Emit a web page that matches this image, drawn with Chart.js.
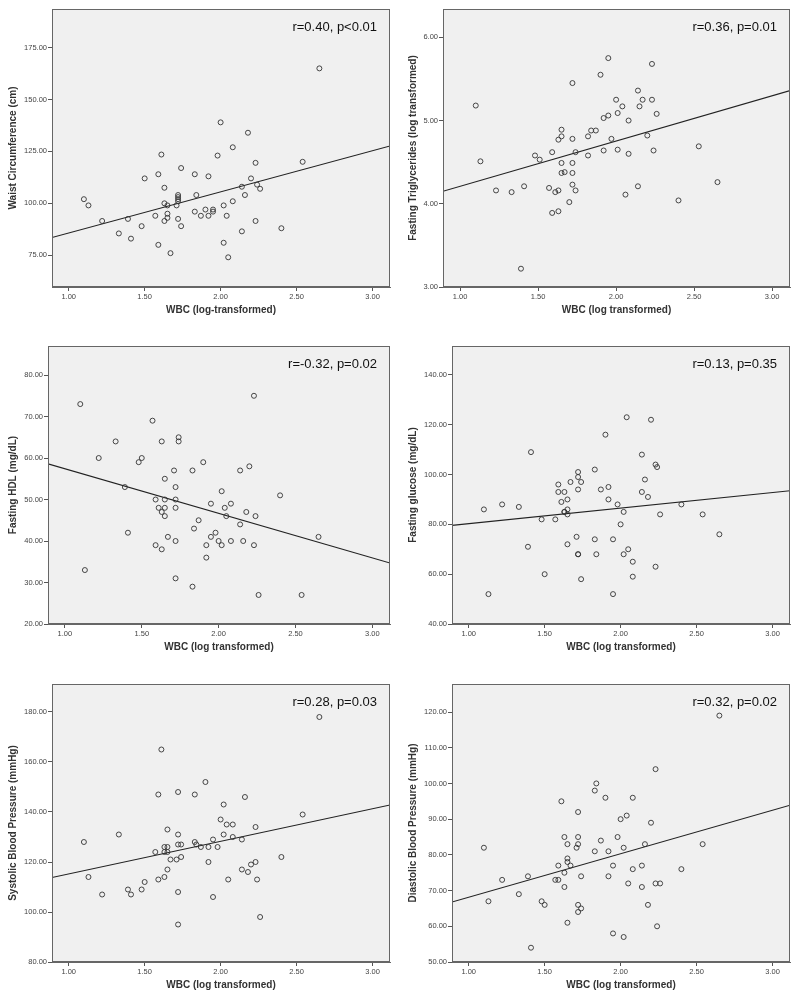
<!DOCTYPE html>
<html>
<head>
<meta charset="utf-8">
<title>WBC correlations</title>
<script src="https://cdn.jsdelivr.net/npm/chart.js@4.4.1/dist/chart.umd.min.js"></script>
<style>
  body { margin: 0; background: #fff; }
  #wrap { position: relative; width: 800px; height: 999px; }
  canvas { position: absolute; }
</style>
</head>
<body>
<div id="wrap">
  <canvas id="c1" width="400" height="333" style="left:0;top:0"></canvas>
  <canvas id="c2" width="400" height="333" style="left:400px;top:0"></canvas>
  <canvas id="c3" width="400" height="333" style="left:0;top:333px"></canvas>
  <canvas id="c4" width="400" height="333" style="left:400px;top:333px"></canvas>
  <canvas id="c5" width="400" height="333" style="left:0;top:666px"></canvas>
  <canvas id="c6" width="400" height="333" style="left:400px;top:666px"></canvas>
</div>
<script>
// x axis ticks shared by all panels
const xTicks = [1.0, 1.5, 2.0, 2.5, 3.0];

// waist circumference
const waistX = [1.10,1.13,1.22,1.33,1.39,1.41,1.48,1.50,1.57,1.59,1.59,1.61,1.63,1.63,1.63,1.65,1.65,1.65,1.67,1.71,1.72,1.72,1.72,1.72,1.72,1.74,1.74,1.83,1.83,1.84,1.87,1.90,1.92,1.92,1.95,1.95,1.98,2.00,2.02,2.02,2.04,2.05,2.08,2.08,2.14,2.14,2.16,2.18,2.20,2.23,2.23,2.24,2.26,2.40,2.54,2.65];
const waistY = [102,99,91.5,85.5,92.5,83,89,112,94,114,80,123.5,107.5,100,91.5,99,95,93,76,99,104,103,102,101,92.5,117,89,114,96,104,94,97,113,94,97,96,123,139,99,81,94,74,127,101,108,86.5,104,134,112,119.5,91.5,109,107,88,120,165];
const waistTicks = [75, 100, 125, 150, 175];
const waistFit = [83.5, 127.6];

// triglycerides
const trigX = [1.10,1.13,1.23,1.33,1.39,1.41,1.48,1.51,1.57,1.59,1.59,1.61,1.63,1.63,1.63,1.65,1.65,1.65,1.65,1.67,1.70,1.72,1.72,1.72,1.72,1.72,1.74,1.74,1.82,1.82,1.84,1.87,1.90,1.92,1.92,1.95,1.95,1.97,2.00,2.01,2.01,2.04,2.06,2.08,2.08,2.14,2.14,2.15,2.17,2.20,2.23,2.23,2.24,2.26,2.40,2.53,2.65];
const trigY = [5.18,4.51,4.16,4.14,3.22,4.21,4.58,4.53,4.19,4.62,3.89,4.14,4.77,4.16,3.91,4.89,4.81,4.49,4.37,4.38,4.02,5.45,4.78,4.49,4.37,4.23,4.62,4.16,4.81,4.58,4.88,4.88,5.55,5.03,4.64,5.75,5.06,4.78,5.25,4.65,5.09,5.17,4.11,5.00,4.60,5.36,4.21,5.17,5.25,4.82,5.68,5.25,4.64,5.08,4.04,4.69,4.26];
const trigTicks = [3, 4, 5, 6];
const trigFit = [4.15, 5.36];

// HDL
const hdlX = [1.10,1.13,1.22,1.33,1.39,1.41,1.48,1.50,1.57,1.59,1.59,1.61,1.63,1.63,1.63,1.65,1.65,1.65,1.65,1.67,1.71,1.72,1.72,1.72,1.72,1.72,1.74,1.74,1.83,1.83,1.84,1.87,1.90,1.92,1.92,1.95,1.95,1.98,2.00,2.02,2.02,2.04,2.05,2.08,2.08,2.14,2.14,2.16,2.18,2.20,2.23,2.23,2.24,2.26,2.40,2.54,2.65];
const hdlY = [73,33,60,64,53,42,59,60,69,50,39,48,64,47,38,55,50,48,46,41,57,53,50,48,40,31,65,64,57,29,43,45,59,39,36,49,41,42,40,52,39,48,46,49,40,57,44,40,47,58,75,39,46,27,51,27,41];
const hdlTicks = [20, 30, 40, 50, 60, 70, 80];
const hdlFit = [58.6, 34.7];

// glucose
const gluX = [1.10,1.13,1.22,1.33,1.39,1.41,1.48,1.50,1.57,1.59,1.59,1.61,1.63,1.63,1.63,1.65,1.65,1.65,1.65,1.67,1.71,1.72,1.72,1.72,1.72,1.72,1.74,1.74,1.83,1.83,1.84,1.87,1.90,1.92,1.92,1.95,1.95,1.98,2.00,2.02,2.02,2.04,2.05,2.08,2.08,2.14,2.14,2.16,2.18,2.20,2.23,2.24,2.23,2.26,2.40,2.54,2.65];
const gluY = [86,52,88,87,71,109,82,60,82,96,93,89,93,85,85,90,86,84,72,97,75,101,99,94,68,68,97,58,102,74,68,94,116,95,90,74,52,88,80,85,68,123,70,65,59,108,93,98,91,122,104,103,63,84,88,84,76];
const gluTicks = [40, 60, 80, 100, 120, 140];
const gluFit = [79.6, 93.5];

// systolic BP
const sbpX = [1.10,1.13,1.22,1.33,1.39,1.41,1.48,1.50,1.57,1.59,1.59,1.61,1.63,1.63,1.63,1.65,1.65,1.65,1.65,1.67,1.71,1.72,1.72,1.72,1.72,1.72,1.74,1.74,1.83,1.83,1.84,1.87,1.90,1.92,1.92,1.95,1.95,1.98,2.00,2.02,2.02,2.04,2.05,2.08,2.08,2.14,2.14,2.16,2.18,2.20,2.23,2.23,2.24,2.26,2.40,2.54,2.65];
const sbpY = [128,114,107,131,109,107,109,112,124,147,113,165,126,124,114,133,126,124,117,121,121,148,131,127,95,108,127,122,147,128,127,126,152,126,120,129,106,126,137,143,131,135,113,135,130,129,117,146,116,119,134,120,113,98,122,139,178];
const sbpTicks = [80, 100, 120, 140, 160, 180];
const sbpFit = [113.8, 142.8];

// diastolic BP
const dbpX = [1.10,1.13,1.22,1.33,1.39,1.41,1.48,1.50,1.57,1.59,1.59,1.61,1.63,1.63,1.63,1.65,1.65,1.65,1.65,1.67,1.71,1.72,1.72,1.72,1.72,1.72,1.74,1.74,1.83,1.83,1.84,1.87,1.90,1.92,1.92,1.95,1.95,1.98,2.00,2.02,2.02,2.04,2.05,2.08,2.08,2.14,2.14,2.16,2.18,2.20,2.23,2.23,2.24,2.26,2.40,2.54,2.65];
const dbpY = [82,67,73,69,74,54,67,66,73,77,73,95,85,75,71,83,79,78,61,77,82,92,85,83,66,64,74,65,98,81,100,84,96,81,74,77,58,85,90,82,57,91,72,96,76,77,71,83,66,89,104,72,60,72,76,83,119];
const dbpTicks = [50, 60, 70, 80, 90, 100, 110, 120];
const dbpFit = [66.8, 93.9];

const X_MIN = 0.89, X_MAX = 3.115;
const CANVAS_H = 333;

const panels = [
  { id: 'c1', xs: waistX, ys: waistY, ticks: waistTicks, fit: waistFit, yMin: 59.7, yMax: 193.6,
    yTitle: 'Waist Circumference (cm)', xTitle: 'WBC (log-transformed)', stat: 'r=0.40, p<0.01',
    left: 52, top: 9, bottom: 287 },
  { id: 'c2', xs: trigX, ys: trigY, ticks: trigTicks, fit: trigFit, yMin: 3.0, yMax: 6.34,
    yTitle: 'Fasting Triglycerides (log transformed)', xTitle: 'WBC (log transformed)', stat: 'r=0.36, p=0.01',
    left: 43, top: 9, bottom: 287 },
  { id: 'c3', xs: hdlX, ys: hdlY, ticks: hdlTicks, fit: hdlFit, yMin: 20, yMax: 87,
    yTitle: 'Fasting HDL (mg/dL)', xTitle: 'WBC (log transformed)', stat: 'r=-0.32, p=0.02',
    left: 48, top: 13, bottom: 291 },
  { id: 'c4', xs: gluX, ys: gluY, ticks: gluTicks, fit: gluFit, yMin: 40, yMax: 151.6,
    yTitle: 'Fasting glucose (mg/dL)', xTitle: 'WBC (log transformed)', stat: 'r=0.13, p=0.35',
    left: 52, top: 13, bottom: 291 },
  { id: 'c5', xs: sbpX, ys: sbpY, ticks: sbpTicks, fit: sbpFit, yMin: 80, yMax: 191.2,
    yTitle: 'Systolic Blood Pressure (mmHg)', xTitle: 'WBC (log transformed)', stat: 'r=0.28, p=0.03',
    left: 52, top: 18, bottom: 296 },
  { id: 'c6', xs: dbpX, ys: dbpY, ticks: dbpTicks, fit: dbpFit, yMin: 50, yMax: 127.85,
    yTitle: 'Diastolic Blood Pressure (mmHg)', xTitle: 'WBC (log transformed)', stat: 'r=0.32, p=0.02',
    left: 52, top: 18, bottom: 296 }
];

const tickFont = { family: "'Liberation Sans', Arial, sans-serif", size: 7.5 };
const titleFont = { family: "'Liberation Sans', Arial, sans-serif", size: 10, weight: 'bold' };

// grey plot background, frame and the r/p label
const framePlugin = {
  id: 'frame',
  beforeDraw(chart) {
    const { ctx, chartArea: a } = chart;
    ctx.save();
    ctx.fillStyle = '#f0f0f0';
    ctx.fillRect(a.left, a.top, a.right - a.left, a.bottom - a.top);
    ctx.restore();
  },
  afterDraw(chart) {
    const { ctx, chartArea: a } = chart;
    ctx.save();
    ctx.strokeStyle = '#666';
    ctx.lineWidth = 1;
    ctx.strokeRect(Math.round(a.left) + 0.5, Math.round(a.top) + 0.5,
      Math.round(a.right - a.left) - 1, Math.round(a.bottom - a.top) - 1);
    ctx.fillStyle = '#111';
    ctx.font = "13px 'Liberation Sans', Arial, sans-serif";
    ctx.textAlign = 'right';
    ctx.textBaseline = 'middle';
    ctx.fillText(chart.options.plugins.frame.stat, a.right - 13, a.top + 18);
    ctx.restore();
  }
};

panels.forEach(p => {
  const points = p.xs.map((x, i) => ({ x: x, y: p.ys[i] }));
  // x title centre sits about 23px under the plot frame
  const xTitleBottom = CANVAS_H - (p.bottom + 23) - 6;
  new Chart(document.getElementById(p.id), {
    type: 'scatter',
    data: {
      datasets: [
        {
          data: points,
          pointRadius: 2.5,
          pointBorderWidth: 0.9,
          pointBorderColor: '#333',
          pointBackgroundColor: 'rgba(0,0,0,0)'
        },
        {
          type: 'line',
          data: [{ x: X_MIN, y: p.fit[0] }, { x: X_MAX, y: p.fit[1] }],
          borderColor: '#222',
          borderWidth: 1.1,
          pointRadius: 0,
          fill: false
        }
      ]
    },
    plugins: [framePlugin],
    options: {
      responsive: false,
      animation: false,
      layout: { padding: { top: p.top, right: 10, left: 0, bottom: 0 } },
      plugins: {
        legend: { display: false },
        tooltip: { enabled: false },
        frame: { stat: p.stat }
      },
      scales: {
        x: {
          type: 'linear',
          min: X_MIN,
          max: X_MAX,
          afterBuildTicks: s => { s.ticks = xTicks.map(v => ({ value: v })); },
          afterFit: s => { s.height = CANVAS_H - p.bottom; },
          ticks: {
            callback: v => Number(v).toFixed(2),
            font: tickFont, color: '#444', padding: 1, maxRotation: 0, autoSkip: false
          },
          grid: { drawOnChartArea: false, tickLength: 4, color: '#555' },
          border: { color: '#666' },
          title: { display: true, text: p.xTitle, font: titleFont, color: '#333', padding: { top: 0, bottom: xTitleBottom } }
        },
        y: {
          min: p.yMin,
          max: p.yMax,
          afterBuildTicks: s => { s.ticks = p.ticks.map(v => ({ value: v })); },
          afterFit: s => { s.width = p.left; },
          ticks: {
            callback: v => Number(v).toFixed(2),
            font: tickFont, color: '#444', padding: 1, autoSkip: false
          },
          grid: { drawOnChartArea: false, tickLength: 4, color: '#555' },
          border: { color: '#666' },
          title: { display: true, text: p.yTitle, font: titleFont, color: '#333', padding: { top: 7, bottom: 0 } }
        }
      }
    }
  });
});
</script>
</body>
</html>
